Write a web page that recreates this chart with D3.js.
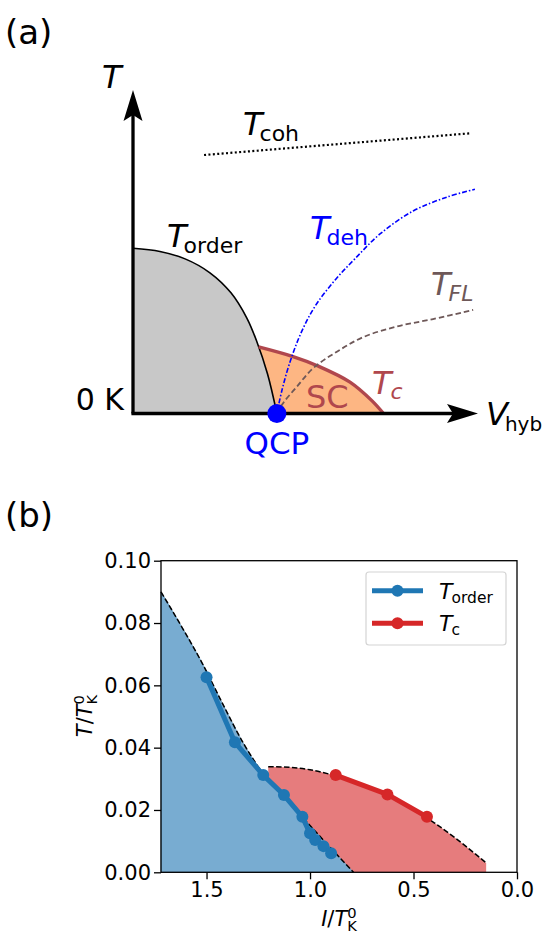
<!DOCTYPE html>
<html>
<head>
<meta charset="utf-8">
<script src="https://cdn.jsdelivr.net/npm/d3@7"></script>
<style>
  body { margin: 0; background: #fff; }
  svg { display: block; }
  text { font-family: "DejaVu Sans", sans-serif; }
</style>
</head>
<body>
<svg id="fig" width="546" height="933"></svg>
<script>
// ---- panel (a): schematic phase diagram, arbitrary units 0..10 ----
var orderU = [0, 0.78, 1.51, 2.23, 2.84, 3.30, 3.58, 3.90, 4.17];
var orderV = [5.11, 5.01, 4.78, 4.35, 3.73, 2.95, 2.25, 1.22, 0];
var tcU = [3.64, 4.64, 5.36, 6.29, 6.93, 7.26];
var tcV = [2.06, 1.76, 1.47, 0.97, 0.39, 0];
var dehU = [4.17, 4.32, 4.55, 4.87, 5.28, 5.86, 6.43, 7.16, 8.12, 9.10, 9.91];
var dehV = [0, 0.73, 1.59, 2.49, 3.32, 4.13, 4.78, 5.55, 6.26, 6.69, 6.93];
var flU = [4.17, 4.35, 4.75, 5.22, 5.91, 6.67, 7.65, 8.70, 9.86];
var flV = [0, 0.32, 0.83, 1.40, 1.91, 2.36, 2.69, 2.92, 3.20];
var cohU = [2.06, 9.76];
var cohV = [7.99, 8.66];
var qcpU = 4.17;

// ---- panel (b): T/T_K^0 versus I/T_K^0 ----
var orderI = [1.5, 1.363, 1.226, 1.126, 1.037, 1.0, 0.975, 0.935, 0.898];
var orderT = [0.0626, 0.0417, 0.0312, 0.0248, 0.0178, 0.0125, 0.0104, 0.0084, 0.0061];
var tcI = [0.876, 0.626, 0.435];
var tcT = [0.0312, 0.0250, 0.0178];
var orderFitI = [1.72, 1.62, 1.52, 1.42, 1.32, 1.226, 1.10, 1.00, 0.90, 0.79];
var orderFitT = [0.0900, 0.0788, 0.0670, 0.0538, 0.0412, 0.0316, 0.0223, 0.0150, 0.0078, 0.0];
var tcFitI = [1.202, 1.10, 1.00, 0.90, 0.80, 0.70, 0.60, 0.50, 0.40, 0.30, 0.20, 0.149];
var tcFitT = [0.0339, 0.0337, 0.0329, 0.0314, 0.0295, 0.0269, 0.0238, 0.0202, 0.0159, 0.0111, 0.0058, 0.0030];
var xTicks = [1.5, 1.0, 0.5, 0.0];
var yTicks = [0, 0.02, 0.04, 0.06, 0.08, 0.10];

var svg = d3.select("#fig");

function zip(a, b) { return a.map(function(v, i) { return [v, b[i]]; }); }

// text with italic / sub / sup pieces
function richText(g, x, y, parts, opts) {
    var t = g.append("text").attr("x", x).attr("y", y)
        .attr("font-size", opts.size)
        .attr("fill", opts.color || "#000")
        .attr("text-anchor", opts.anchor || "start");
    var cur = 0;
    parts.forEach(function(p) {
        var shift = p.shift || 0;
        t.append("tspan").text(p.t)
            .attr("dy", shift - cur)
            .attr("dx", p.dx || 0)
            .attr("font-size", p.size || null)
            .attr("font-style", p.it ? "italic" : null);
        cur = shift;
    });
    return t;
}

/* ================= panel (a) ================= */
var ga = svg.append("g");
var xA = d3.scaleLinear().domain([0, 10]).range([133, 478]);
var yA = d3.scaleLinear().domain([0, 10]).range([413.5, 90]);

var lineA = d3.line().x(function(d) { return xA(d[0]); }).y(function(d) { return yA(d[1]); })
    .curve(d3.curveCatmullRom.alpha(0.5));
var areaA = d3.area().x(function(d) { return xA(d[0]); })
    .y0(yA(0)).y1(function(d) { return yA(d[1]); })
    .curve(d3.curveCatmullRom.alpha(0.5));

var tcRed = "#b0474d", flBrown = "#6e5858";

// SC dome, then ordered phase on top
ga.append("path").attr("d", areaA(zip(tcU, tcV))).attr("fill", "#fdb683");
ga.append("path").attr("d", areaA(zip(orderU, orderV))).attr("fill", "#c8c8c8");
ga.append("path").attr("d", lineA(zip(orderU, orderV)))
    .attr("fill", "none").attr("stroke", "#000").attr("stroke-width", 1.6);
ga.append("path").attr("d", lineA(zip(tcU, tcV)))
    .attr("fill", "none").attr("stroke", tcRed).attr("stroke-width", 3.4);

ga.append("path").attr("d", lineA(zip(dehU, dehV)))
    .attr("fill", "none").attr("stroke", "#0000ff").attr("stroke-width", 1.6)
    .attr("stroke-dasharray", "5,2,1.5,2");
ga.append("path").attr("d", lineA(zip(flU, flV)))
    .attr("fill", "none").attr("stroke", flBrown).attr("stroke-width", 1.8)
    .attr("stroke-dasharray", "5.5,3");
ga.append("path").attr("d", d3.line().x(function(d) { return xA(d[0]); }).y(function(d) { return yA(d[1]); })(zip(cohU, cohV)))
    .attr("fill", "none").attr("stroke", "#000").attr("stroke-width", 2.2)
    .attr("stroke-dasharray", "2,2.4");

// axes with arrow heads
ga.append("line").attr("x1", xA(0)).attr("y1", yA(0)).attr("x2", xA(0)).attr("y2", yA(10) + 20)
    .attr("stroke", "#000").attr("stroke-width", 3.3);
ga.append("line").attr("x1", xA(0) - 1.6).attr("y1", yA(0)).attr("x2", xA(10) - 20).attr("y2", yA(0))
    .attr("stroke", "#000").attr("stroke-width", 3.3);
ga.append("path")
    .attr("d", "M" + xA(0) + "," + yA(10) + "L" + (xA(0) + 9.5) + "," + (yA(10) + 31) +
               "L" + xA(0) + "," + (yA(10) + 25) + "L" + (xA(0) - 9.5) + "," + (yA(10) + 31) + "Z")
    .attr("fill", "#000");
ga.append("path")
    .attr("d", "M" + xA(10) + "," + yA(0) + "L" + (xA(10) - 31) + "," + (yA(0) - 9.5) +
               "L" + (xA(10) - 25) + "," + yA(0) + "L" + (xA(10) - 31) + "," + (yA(0) + 9.5) + "Z")
    .attr("fill", "#000");

ga.append("circle").attr("cx", xA(qcpU)).attr("cy", yA(0)).attr("r", 9.5).attr("fill", "#0000ff");

// labels
ga.append("text").attr("x", 5).attr("y", 44).attr("font-size", 34).text("(a)");
richText(ga, 102, 88, [{t: "T", it: true}], {size: 32});
richText(ga, 243, 135, [{t: "T", it: true}, {t: "coh", size: 22, shift: 6, dx: -3}], {size: 32});
richText(ga, 167, 246.7, [{t: "T", it: true}, {t: "order", size: 22, shift: 6, dx: -3}], {size: 32});
richText(ga, 310, 239.3, [{t: "T", it: true}, {t: "deh", size: 22, shift: 6, dx: -3}], {size: 32, color: "#0000ff"});
richText(ga, 431, 295, [{t: "T", it: true}, {t: "FL", size: 22, it: true, shift: 6, dx: -2}], {size: 32, color: flBrown});
richText(ga, 372, 393.5, [{t: "T", it: true}, {t: "c", size: 22, it: true, shift: 5, dx: -1}], {size: 32, color: tcRed});
ga.append("text").attr("x", 306).attr("y", 408.3).attr("font-size", 32).attr("fill", tcRed).text("SC");
ga.append("text").attr("x", 124).attr("y", 410).attr("font-size", 30).attr("text-anchor", "end").text("0 K");
richText(ga, 486, 425, [{t: "V", it: true}, {t: "hyb", size: 20, shift: 6, dx: -3}], {size: 32});
ga.append("text").attr("x", xA(qcpU)).attr("y", 454).attr("font-size", 31)
    .attr("text-anchor", "middle").attr("fill", "#0000ff").text("QCP");

/* ================= panel (b) ================= */
var gb = svg.append("g");
var x = d3.scaleLinear().domain([1.72, 0]).range([161, 517]);
var y = d3.scaleLinear().domain([0, 0.1]).range([872.3, 560.7]);
var blue = "#1f77b4", red = "#d62728";

var line = d3.line().x(function(d) { return x(d[0]); }).y(function(d) { return y(d[1]); });
var smooth = d3.line().x(function(d) { return x(d[0]); }).y(function(d) { return y(d[1]); })
    .curve(d3.curveMonotoneX);
var area = d3.area().x(function(d) { return x(d[0]); })
    .y0(y(0)).y1(function(d) { return y(d[1]); }).curve(d3.curveMonotoneX);

var tcFit = zip(tcFitI, tcFitT);
var orderFit = zip(orderFitI, orderFitT);

gb.append("path").attr("d", area(tcFit)).attr("fill", "#e67c7d");
gb.append("path").attr("d", area(orderFit)).attr("fill", "#78acd1")
    .attr("stroke", "#5b8fb6").attr("stroke-width", 0.8);
gb.append("path").attr("d", smooth(tcFit)).attr("fill", "none")
    .attr("stroke", "#000").attr("stroke-width", 1.5).attr("stroke-dasharray", "5.5,2.4");
gb.append("path").attr("d", smooth(orderFit)).attr("fill", "none")
    .attr("stroke", "#000").attr("stroke-width", 1.5).attr("stroke-dasharray", "5.5,2.4");

[[zip(orderI, orderT), blue], [zip(tcI, tcT), red]].forEach(function(s) {
    gb.append("path").attr("d", line(s[0])).attr("fill", "none")
        .attr("stroke", s[1]).attr("stroke-width", 5).attr("stroke-linejoin", "round");
    gb.selectAll(null).data(s[0]).enter().append("circle")
        .attr("cx", function(d) { return x(d[0]); })
        .attr("cy", function(d) { return y(d[1]); })
        .attr("r", 6).attr("fill", s[1]);
});

// frame + axes
gb.append("rect").attr("x", 161).attr("y", 560.7).attr("width", 356).attr("height", 311.6)
    .attr("fill", "none").attr("stroke", "#000").attr("stroke-width", 1.3);

var ax = gb.append("g").attr("transform", "translate(0," + y(0) + ")")
    .call(d3.axisBottom(x).tickValues(xTicks).tickFormat(d3.format(".1f")).tickSize(7).tickPadding(3));
var ay = gb.append("g").attr("transform", "translate(" + x(1.72) + ",0)")
    .call(d3.axisLeft(y).tickValues(yTicks).tickFormat(d3.format(".2f")).tickSize(7).tickPadding(3));
[ax, ay].forEach(function(a) {
    a.select(".domain").remove();
    a.attr("font-family", null).attr("font-size", 21);
    a.selectAll("line").attr("stroke-width", 1.3);
    a.selectAll("text").attr("fill", "#000");
});

gb.append("text").attr("x", 5).attr("y", 527).attr("font-size", 34).text("(b)");

richText(gb, 339, 926, [
    {t: "I", it: true}, {t: "/"}, {t: "T", it: true},
    {t: "K", size: 14.7, shift: 5}, {t: "0", size: 14.7, shift: -8, dx: -9.6}
], {size: 21, anchor: "middle"});

var yl = gb.append("g").attr("transform", "translate(92,716) rotate(-90)");
richText(yl, 0, 0, [
    {t: "T", it: true}, {t: "/"}, {t: "T", it: true},
    {t: "K", size: 14.7, shift: 5}, {t: "0", size: 14.7, shift: -8, dx: -9.6}
], {size: 21, anchor: "middle"});

// legend
var lg = gb.append("g");
lg.append("rect").attr("x", 366).attr("y", 572).attr("width", 140).attr("height", 73).attr("rx", 3)
    .attr("fill", "#fff").attr("stroke", "#d4d4d4").attr("stroke-width", 1.2);
[[blue, 590.7, "order"], [red, 623.3, "c"]].forEach(function(e) {
    lg.append("line").attr("x1", 372).attr("x2", 423).attr("y1", e[1]).attr("y2", e[1])
        .attr("stroke", e[0]).attr("stroke-width", 5);
    lg.append("circle").attr("cx", 397.5).attr("cy", e[1]).attr("r", 6).attr("fill", e[0]);
    richText(lg, 439, e[1] + 8, [{t: "T", it: true}, {t: e[2], size: 15.5, shift: 4, dx: -1}], {size: 22});
});
</script>
</body>
</html>
